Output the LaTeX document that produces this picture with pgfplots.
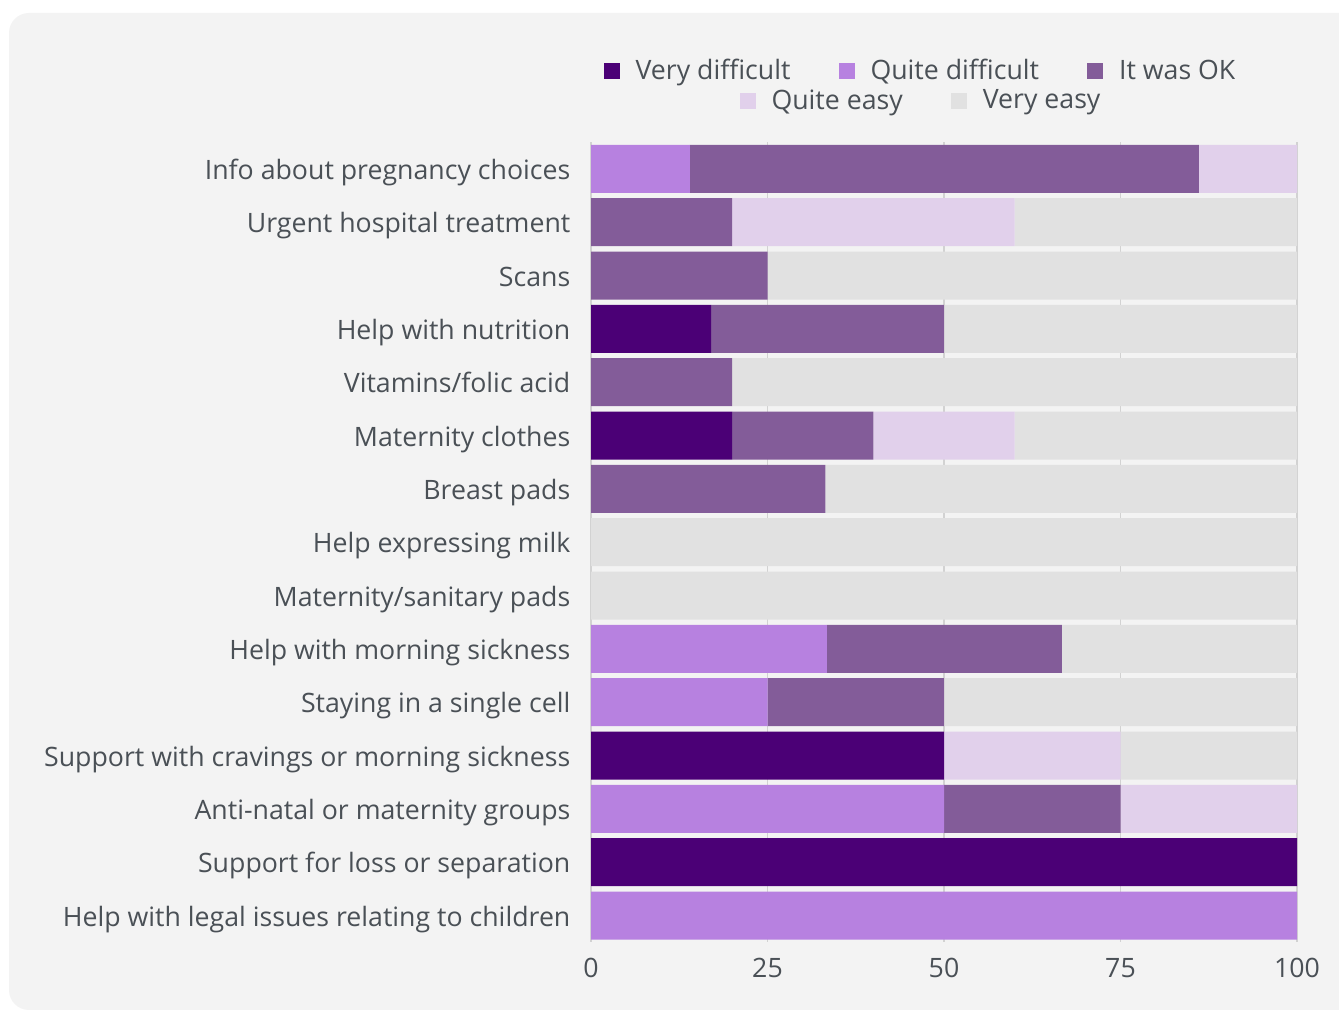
\documentclass[border=0pt]{standalone}
\usepackage{pgfplots}
\pgfplotsset{compat=1.18}
\usepackage{pgfplotstable}
\usepackage{fontspec}
\setmainfont{Open Sans}
\definecolor{vd}{HTML}{4B0076}
\definecolor{qd}{HTML}{B781E0}
\definecolor{ok}{HTML}{835C99}
\definecolor{qe}{HTML}{E1D0EB}
\definecolor{ve}{HTML}{E1E1E1}
\definecolor{bg}{HTML}{F3F3F3}
\definecolor{gridc}{HTML}{D2D2D2}
\definecolor{txt}{HTML}{4A5056}
\pgfplotsset{sqleg/.style={legend image code/.code={\fill[##1] (0pt,-4pt) rectangle (8pt,4pt);}}}
\pgfplotstableread{
row vd qd ok qe ve
0 0 14 72.1 13.9 0
1 0 0 20 40 40
2 0 0 25 0 75
3 17 0 33 0 50
4 0 0 20 0 80
5 20 0 20 20 40
6 0 0 33.2 0 66.8
7 0 0 0 0 100
8 0 0 0 0 100
9 0 33.4 33.3 0 33.3
10 0 25 25 0 50
11 50 0 0 25 25
12 0 50 25 25 0
13 100 0 0 0 0
14 0 100 0 0 0
}\data
\begin{document}
\begin{tikzpicture}
\useasboundingbox (0pt,0pt) rectangle (669.5pt,506pt);
\fill[white] (0pt,0pt) rectangle (669.5pt,506pt);
\fill[bg, rounded corners=10pt] (4.5pt,1pt) rectangle (710pt,499.5pt);
\begin{axis}[
  at={(295.5pt,34.9pt)}, anchor=south west,
  scale only axis, width=353pt, height=400pt,
  xbar stacked, bar width=0.9,
  y dir=reverse, ymin=-0.5, ymax=14.5,
  xmin=0, xmax=100,
  xtick={0,25,50,75,100},
  ytick={0,...,14},
  yticklabels={Info about pregnancy choices, Urgent hospital treatment, Scans, Help with nutrition, Vitamins/folic acid, Maternity clothes, Breast pads, Help expressing milk, Maternity/sanitary pads, Help with morning sickness, Staying in a single cell, Support with cravings or morning sickness, Anti-natal or maternity groups, Support for loss or separation, Help with legal issues relating to children},
  axis line style={draw=none},
  major tick length=0pt,
  xmajorgrids, grid style={gridc, line width=0.6pt},
  /pgf/number format/assume math mode=true,
  ticklabel style={font=\fontsize{13.35}{15}\selectfont, text=txt},
  yticklabel style={xshift=-6.8pt, yshift=-2pt, text height=9.7pt, text depth=3.2pt},
  xticklabel style={yshift=-4.5pt},
  legend columns=3,
  legend style={at={(0.4653,1.089)}, anchor=center, draw=none, fill=none, inner sep=0pt,
    nodes={inner sep=0pt, text=txt, font=\fontsize{13.35}{15}\selectfont},
    /tikz/every odd column/.append style={column sep=8pt},
    /tikz/every even column/.append style={column sep=24pt}},
]
\addplot[fill=vd, draw=none, sqleg] table[x=vd, y=row] {\data};
\addlegendentry{Very difficult}
\addplot[fill=qd, draw=none, sqleg] table[x=qd, y=row] {\data};
\addlegendentry{Quite difficult}
\addplot[fill=ok, draw=none, sqleg] table[x=ok, y=row] {\data};
\addlegendentry{It was OK}
\addplot[fill=qe, draw=none] table[x=qe, y=row] {\data};
\addplot[fill=ve, draw=none] table[x=ve, y=row] {\data};
\end{axis}
\begin{axis}[
  at={(295.5pt,34.9pt)}, anchor=south west,
  scale only axis, width=353pt, height=400pt,
  hide axis, xmin=0, xmax=1, ymin=0, ymax=1,
  legend columns=2,
  legend style={at={(0.466,1.0516)}, anchor=center, draw=none, fill=none, inner sep=0pt,
    nodes={inner sep=0pt, text=txt, font=\fontsize{13.35}{15}\selectfont},
    /tikz/every odd column/.append style={column sep=8pt},
    /tikz/every even column/.append style={column sep=24pt}},
]
\addlegendimage{sqleg, fill=qe, draw=none}
\addlegendentry{Quite easy}
\addlegendimage{sqleg, fill=ve, draw=none}
\addlegendentry{Very easy}
\end{axis}
\end{tikzpicture}
\end{document}
